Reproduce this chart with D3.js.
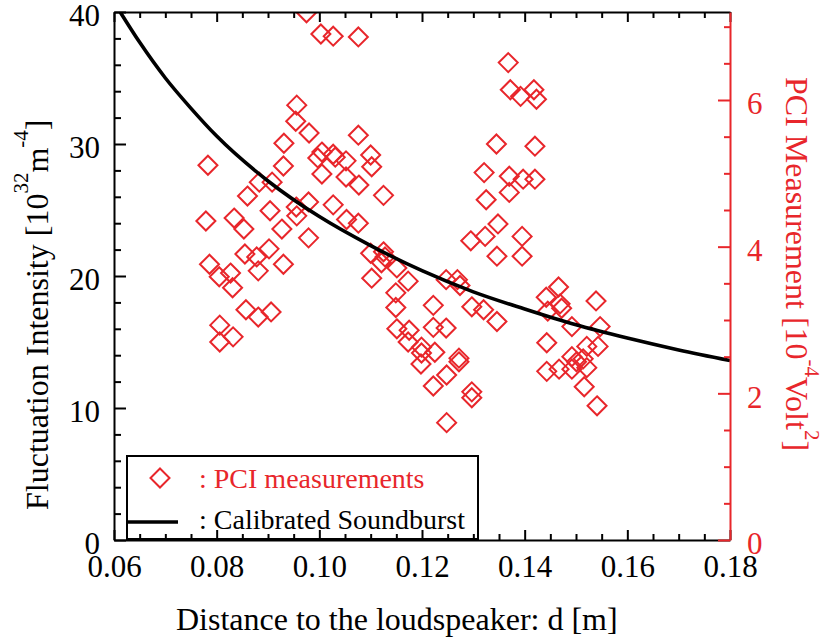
<!DOCTYPE html>
<html>
<head>
<meta charset="utf-8">
<script src="https://cdn.jsdelivr.net/npm/d3@7"></script>
<style>
  body { margin: 0; background: #fff; }
  text { font-family: "Liberation Serif", "Times New Roman", serif; }
</style>
</head>
<body>
<script>
// distance d [m] of each PCI measurement
var pciD = [0.0975,0.0956,0.0954,0.0980,0.0931,0.0783,0.0930,0.0883,0.0908,0.0860,
            0.0979,0.0955,0.0904,0.0956,0.0779,0.0834,0.0853,0.0927,0.0979,0.0855,
            0.0878,0.0902,0.0881,0.0930,0.0786,0.0805,0.0827,0.0831,0.0857,0.0881,
            0.0906,0.0806,0.0806,0.0832,0.1003,0.1027,0.1076,0.1076,0.1005,0.0997,
            0.1027,0.1031,0.1052,0.1100,0.1102,0.1005,0.1052,0.1077,0.1125,0.1027,
            0.1053,0.1076,0.1100,0.1125,0.1128,0.1121,0.1151,0.1102,0.1173,0.1149,
            0.1149,0.1151,0.1175,0.1173,0.1199,0.1199,0.1198,0.1225,0.1222,0.1248,
            0.1272,0.1272,0.1297,0.1297,0.1248,0.1222,0.1222,0.1247,0.1247,0.1269,
            0.1274,0.1295,0.1297,0.1320,0.1323,0.1348,0.1346,0.1395,0.1395,0.1346,
            0.1368,0.1372,0.1392,0.1418,0.1423,0.1345,0.1420,0.1321,0.1370,0.1397,
            0.1420,0.1370,0.1325,0.1466,0.1442,0.1469,0.1472,0.1445,0.1539,0.1492,
            0.1547,0.1443,0.1521,0.1543,0.1492,0.1501,0.1514,0.1521,0.1443,0.1467,
            0.1492,0.1516,0.1541];
// PCI measurement [10^-4 Volt^2]
var pciV = [7.19,5.93,5.71,5.55,5.41,5.11,5.10,4.88,4.88,4.69,
            4.61,4.54,4.49,4.42,4.35,4.39,4.24,4.24,4.12,3.90,
            3.86,3.97,3.67,3.76,3.76,3.59,3.64,3.44,3.14,3.04,
            3.11,2.93,2.70,2.77,6.90,6.87,6.86,5.52,5.29,5.21,
            5.26,5.22,5.17,5.25,5.09,4.99,4.95,4.84,4.70,4.57,
            4.37,4.32,3.91,3.93,3.86,3.78,3.71,3.57,3.53,3.37,
            3.17,2.88,2.86,2.70,2.63,2.55,2.40,2.56,2.10,2.25,
            2.48,2.43,2.02,1.94,1.60,3.20,2.90,2.89,3.55,3.55,
            3.47,4.08,3.18,3.14,4.14,4.31,3.87,4.14,3.87,2.98,
            6.51,6.14,6.05,6.14,6.01,5.40,5.37,5.01,4.96,4.92,
            4.92,4.74,4.64,3.45,3.31,3.22,3.16,3.12,3.26,2.91,
            2.91,2.69,2.64,2.64,2.50,2.43,2.47,2.35,2.30,2.33,
            2.33,2.09,1.83];
// calibrated soundburst curve (fluctuation intensity, 10^32 m^-4)
var curveD = [0.0612,0.065,0.07,0.075,0.08,0.09,0.10,0.11,0.12,0.13,0.14,0.15,0.16,0.17,0.18];
var curveI = [40.0,37.7,35.0,32.7,30.6,27.2,24.5,22.3,20.4,18.8,17.5,16.3,15.3,14.4,13.6];

var xTicks = [0.06,0.08,0.10,0.12,0.14,0.16,0.18];
var xTickLabels = ["0.06","0.08","0.10","0.12","0.14","0.16","0.18"];
var yLeftTicks = [0,10,20,30,40];
var yRightTicks = [0,2,4,6];

var red = "#e8262b";
var width = 822, height = 640;
var plot = {left:114, right:730, top:12, bottom:540};

var svg = d3.select("body").append("svg")
    .attr("width", width)
    .attr("height", height);

var x = d3.scaleLinear().domain([0.06,0.18]).range([plot.left, plot.right]);
var yL = d3.scaleLinear().domain([0,40]).range([plot.bottom, plot.top]);
var yR = d3.scaleLinear().domain([0,7.2]).range([plot.bottom, plot.top]);

svg.append("clipPath").attr("id","clip")
  .append("rect")
    .attr("x", plot.left).attr("y", plot.top)
    .attr("width", plot.right-plot.left).attr("height", plot.bottom-plot.top);

// legend box (under the axes)
var legend = svg.append("g");
legend.append("rect")
    .attr("x",127).attr("y",456).attr("width",351).attr("height",83)
    .attr("fill","#fff").attr("stroke","#000").attr("stroke-width",2);

// data
var marks = svg.append("g").attr("clip-path","url(#clip)");
function diamond(cx, cy, r){
  return "M"+cx+","+(cy-r)+"L"+(cx+r)+","+cy+"L"+cx+","+(cy+r)+"L"+(cx-r)+","+cy+"Z";
}
marks.selectAll(".pt")
  .data(pciD)
  .enter()
  .append("path")
    .attr("class","pt")
    .attr("d", function(d,i){ return diamond(x(d), yR(pciV[i]), 9.5); })
    .attr("fill","none")
    .attr("stroke",red)
    .attr("stroke-width",2);

var line = d3.line()
    .x(function(d){ return x(d); })
    .y(function(d,i){ return yL(curveI[i]); })
    .curve(d3.curveMonotoneX);
marks.append("path")
    .attr("d", line(curveD))
    .attr("fill","none")
    .attr("stroke","#000")
    .attr("stroke-width",3.6);

// axes
function styleAxis(g, color, fontSize){
  g.selectAll(".domain").attr("stroke",color).attr("stroke-width",2);
  g.selectAll(".tick line").attr("stroke",color).attr("stroke-width",2);
  g.selectAll(".tick text").attr("fill",color)
    .style("font-family",'"Liberation Serif","Times New Roman",serif')
    .style("font-size",fontSize);
}
function minor(axis, vals, size, tx, ty, color){
  var g = svg.append("g").attr("transform","translate("+tx+","+ty+")")
    .call(axis.tickValues(vals).tickSizeInner(size).tickSizeOuter(0).tickFormat(""));
  g.select(".domain").remove();
  g.selectAll(".tick line").attr("stroke",color).attr("stroke-width",2);
}

var xMinor = d3.range(0.065,0.18,0.005).filter(function(v){ return Math.abs(Math.round(v*50)-v*50)>0.01; });
var yLMinor = d3.range(2,40,2).filter(function(v){ return v%10!==0; });
var yRMinor = d3.range(0.5,7.2,0.5).filter(function(v){ return v%2!==0; });

minor(d3.axisBottom(x), xMinor, -6, 0, plot.bottom, "#000");
minor(d3.axisTop(x), xMinor, -6, 0, plot.top, "#000");
minor(d3.axisLeft(yL), yLMinor, -7, plot.left, 0, "#000");

var gx = svg.append("g").attr("transform","translate(0,"+plot.bottom+")")
  .call(d3.axisBottom(x).tickValues(xTicks)
    .tickFormat(function(d,i){ return xTickLabels[i]; })
    .tickSizeInner(-10).tickSizeOuter(0).tickPadding(15));
styleAxis(gx,"#000","31px");

var gt = svg.append("g").attr("transform","translate(0,"+plot.top+")")
  .call(d3.axisTop(x).tickValues(xTicks).tickFormat("")
    .tickSizeInner(-10).tickSizeOuter(0));
styleAxis(gt,"#000","31px");

var gl = svg.append("g").attr("transform","translate("+plot.left+",0)")
  .call(d3.axisLeft(yL).tickValues(yLeftTicks)
    .tickSizeInner(-12).tickSizeOuter(0).tickPadding(14));
styleAxis(gl,"#000","31px");
gl.selectAll(".tick text").attr("dy","0.45em");

minor(d3.axisRight(yR), yRMinor, -6, plot.right, 0, red);
var gr = svg.append("g").attr("transform","translate("+plot.right+",0)")
  .call(d3.axisRight(yR).tickValues(yRightTicks)
    .tickSizeInner(-12).tickSizeOuter(0).tickPadding(17));
styleAxis(gr,red,"31px");
gr.selectAll(".tick text").attr("dy","0.45em");

// legend contents
legend.append("path")
    .attr("d", diamond(160,478,9.5))
    .attr("fill","none").attr("stroke",red).attr("stroke-width",2);
legend.append("text")
    .attr("x",199).attr("y",488)
    .attr("fill",red).style("font-size","28px")
    .text(": PCI measurements");
legend.append("line")
    .attr("x1",128).attr("x2",178).attr("y1",522).attr("y2",522)
    .attr("stroke","#000").attr("stroke-width",3.6);
legend.append("text")
    .attr("x",199).attr("y",529)
    .attr("fill","#000").style("font-size","28px")
    .text(": Calibrated Soundburst");

// axis titles
svg.append("text")
    .attr("x",176).attr("y",630)
    .style("font-size","32px")
    .text("Distance to the loudspeaker: d [m]");

var tl = svg.append("text")
    .attr("transform","translate(48,510) rotate(-90)")
    .style("font-size","32px");
tl.append("tspan").text("Fluctuation Intensity [10");
tl.append("tspan").attr("dy",-20).style("font-size","21px").text("32");
tl.append("tspan").attr("dy",20).text("m");
tl.append("tspan").attr("dy",-20).style("font-size","21px").text("-4");
tl.append("tspan").attr("dy",20).text("]");

var tr = svg.append("text")
    .attr("transform","translate(786,77) rotate(90)")
    .attr("fill",red)
    .style("font-size","32px");
tr.append("tspan").text("PCI Measurement [10");
tr.append("tspan").attr("dy",-19).style("font-size","21px").text("-4");
tr.append("tspan").attr("dy",19).text("Volt");
tr.append("tspan").attr("dy",-19).style("font-size","21px").text("2");
tr.append("tspan").attr("dy",19).text("]");
</script>
</body>
</html>
